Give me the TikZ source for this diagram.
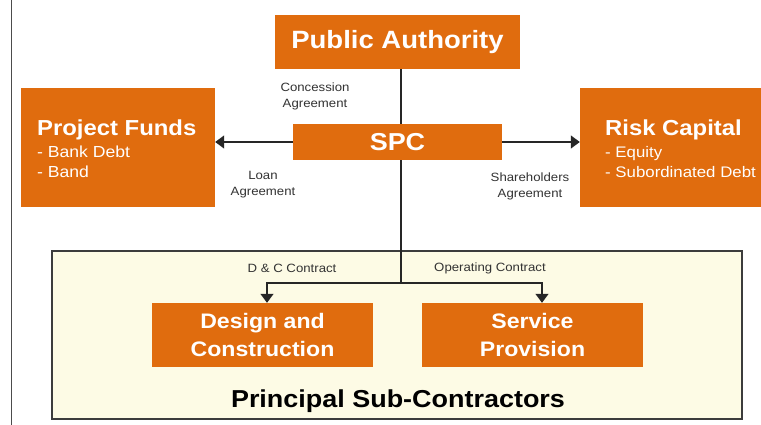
\documentclass[tikz,border=0pt]{standalone}
\usepackage{fontspec}
\setmainfont{Liberation Sans}[FakeStretch=1.1]
\usetikzlibrary{arrows.meta,calc}
\definecolor{org}{RGB}{224,108,14}
\definecolor{pale}{RGB}{253,251,229}
\definecolor{frame}{RGB}{60,60,60}
\tikzset{
  obox/.style={fill=org,draw=none,inner sep=0pt,text=white,font=\bfseries},
  lbl/.style={inner sep=0pt,align=center,text=black!80,font=\fontsize{12}{16}\selectfont},
  conn/.style={draw=black!85,line width=1.4pt},
  arr/.style={conn,-{Triangle[length=9pt,width=13pt]}}
}
\begin{document}
\begin{tikzpicture}[x=1pt,y=-1pt]
\useasboundingbox (0,0) rectangle (761,425);
\fill[white] (0,0) rectangle (761,425);
% left rule
\draw[black!70,line width=1.5pt] (11.5,0) -- (11.5,425);
% sub-contractor frame
\node[draw=frame,line width=1.3pt,fill=pale,minimum width=690pt,minimum height=168pt,inner sep=0pt] (frm) at (397,335) {};
\node[inner sep=0pt,font=\bfseries\fontsize{24.5}{28}\selectfont] (psc) at (398,401) {Principal Sub-Contractors};
% boxes
\node[obox,minimum width=245pt,minimum height=54pt,font=\bfseries\fontsize{25}{28}\selectfont] (pa) at (397.5,42) {Public Authority};
\node[obox,minimum width=209pt,minimum height=36pt,font=\bfseries\fontsize{24.5}{28}\selectfont] (spc) at (397.5,142) {SPC};
\node[obox,minimum width=194pt,minimum height=119pt] (pf) at (118,147.5) {};
\node[obox,minimum width=181pt,minimum height=119pt] (rc) at (670.5,147.5) {};
\node[obox,minimum width=221pt,minimum height=64pt,align=center,font=\bfseries\fontsize{21}{28}\selectfont] (dc) at (262.5,335) {Design and\\Construction};
\node[obox,minimum width=221pt,minimum height=64pt,align=center,font=\bfseries\fontsize{21}{28}\selectfont] (sp) at (532.5,335) {Service\\Provision};
% box texts
\node[anchor=west,inner sep=0pt,text=white,font=\bfseries\fontsize{21.7}{24}\selectfont] (pft) at (37,130) {Project Funds};
\node[anchor=north west,inner sep=0pt,text=white,align=left,font=\fontsize{16}{20}\selectfont] (pfl) at (37,146) {- Bank Debt\\- Band};
\node[anchor=west,inner sep=0pt,text=white,font=\bfseries\fontsize{21.7}{24}\selectfont] (rct) at (605,130) {Risk Capital};
\node[anchor=north west,inner sep=0pt,text=white,align=left,font=\fontsize{15.3}{20}\selectfont] (rcl) at (605,146) {- Equity\\- Subordinated Debt};
% labels
\node[lbl] (ca) at (315,96) {Concession\\Agreement};
\node[lbl] (la) at (263,184.5) {Loan\\Agreement};
\node[lbl] (sa) at (530,186) {Shareholders\\Agreement};
\node[lbl] (dcc) at (292,268) {D \& C Contract};
\node[lbl] (opc) at (490,268) {Operating Contract};
% connectors
\coordinate (vx) at (401,0);
\coordinate (jn) at (401,283);
\coordinate (jl) at (267,283);
\coordinate (jr) at (542,283);
\draw[conn] (vx |- pa.south) -- (vx |- spc.north);
\draw[arr] (spc.west) -- (spc.west -| pf.east);
\draw[arr] (spc.east) -- (spc.east -| rc.west);
\draw[conn] (vx |- spc.south) -- (jn);
\draw[arr] (jn) -- (jl) -- (jl |- dc.north);
\draw[arr] (jn) -- (jr) -- (jr |- sp.north);
\end{tikzpicture}
\end{document}
